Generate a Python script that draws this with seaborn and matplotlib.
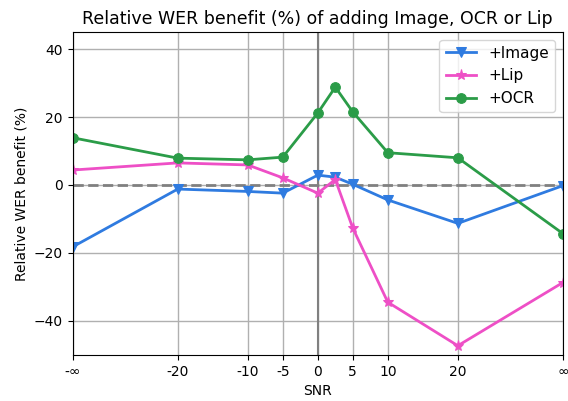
import numpy as np
import pandas as pd
import matplotlib
matplotlib.use("Agg")
import matplotlib.pyplot as plt
import seaborn as sns

snr_pos = [-35, -20, -10, -5, 0, 2.5, 5, 10, 20, 35]
tick_pos = [-35, -20, -10, -5, 0, 5, 10, 20, 35]
tick_labels = ["-∞", "-20", "-10", "-5", "0", "5", "10", "20", "∞"]

image_vals = [-18.2, -1.2, -1.9, -2.4, 2.9, 2.3, 0.2, -4.4, -11.3, -0.2]
lip_vals = [4.4, 6.5, 5.9, 2.1, -2.4, 1.6, -12.7, -34.5, -47.3, -28.7]
ocr_vals = [13.9, 7.9, 7.4, 8.2, 21.2, 28.8, 21.5, 9.5, 8.0, -14.3]

series = ["+Image", "+Lip", "+OCR"]
colors = {"+Image": "#2f7be0", "+Lip": "#ee4fc6", "+OCR": "#2b9c48"}
markers = {"+Image": "v", "+Lip": "*", "+OCR": "o"}

df = pd.DataFrame({
    "SNR": snr_pos * 3,
    "val": image_vals + lip_vals + ocr_vals,
    "series": ["+Image"] * 10 + ["+Lip"] * 10 + ["+OCR"] * 10,
})

plt.rcParams.update(matplotlib.rcParamsDefault)
plt.rcParams['font.family'] = ['DejaVu Sans']
fig, ax = plt.subplots(figsize=(5.68, 4.01), dpi=100)

ax.axvline(0, color="gray", lw=1.5, zorder=1)
ax.axhline(0, color="gray", lw=2, ls="--", zorder=1)

for s in series:
    sub = df[df.series == s]
    sns.lineplot(data=sub, x="SNR", y="val", ax=ax, color=colors[s], marker=markers[s],
                 markersize=7 if s != "+Lip" else 8, markeredgecolor=colors[s], lw=2, label=s)

ax.set_xticks(tick_pos)
ax.set_xticklabels(tick_labels)
ax.set_xlim(-35, 35)
ax.set_ylim(-50, 45)
ax.set_yticks([-40, -20, 0, 20, 40])
ax.grid(True, color="#b0b0b0", lw=1)
ax.set_axisbelow(True)
ax.set_xlabel("SNR")
ax.set_ylabel("Relative WER benefit (%)")
ax.set_title("Relative WER benefit (%) of adding Image, OCR or Lip", fontsize=12.5)
ax.legend(loc="upper right", fontsize=11)
fig.subplots_adjust(left=0.128, right=0.991, top=0.92, bottom=0.115)
fig.savefig("out.png", dpi=100)
